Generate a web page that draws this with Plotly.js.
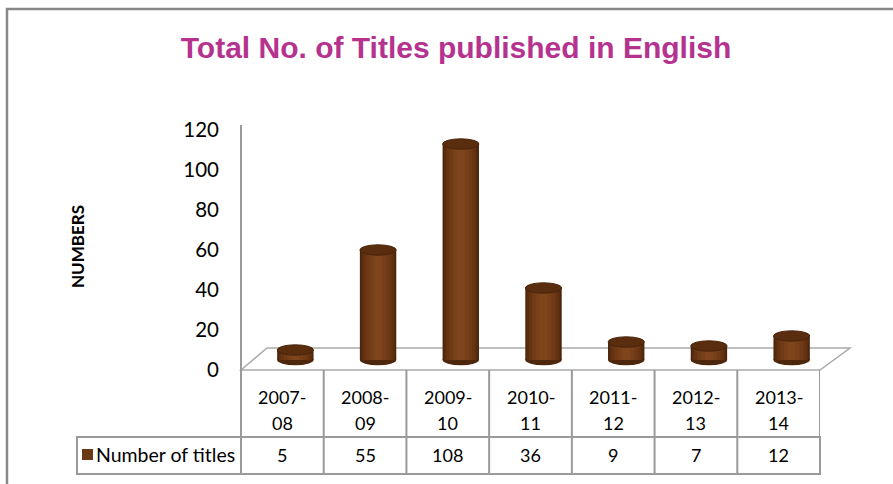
<!DOCTYPE html>
<html>
<head>
<meta charset="utf-8">
<script src="https://cdn.plot.ly/plotly-3.0.1.min.js"></script>
<style>html,body{margin:0;padding:0;background:#fff;}#chart{width:893px;height:484px;}</style>
</head>
<body>
<div id="chart"></div>
<script>
// ---- data ----
const categories = ['2007-08', '2008-09', '2009-10', '2010-11', '2011-12', '2012-13', '2013-14'];
const numberOfTitles = [5, 55, 108, 36, 9, 7, 12];
const seriesName = 'Number of titles';
const yTicks = [0, 20, 40, 60, 80, 100, 120];
const chartTitle = 'Total No. of Titles published in English';
const yTitle = 'NUMBERS';

// ---- geometry helpers (pixels -> paper) ----
const W = 893, H = 484;
const fx = x => x / W;
const fy = y => 1 - y / H;
const colL = 241, colR = 820, depth = 13;
const floorFront = 370, floorBack = 348;
const tableHeadBottom = 437, tableBottom = 474, legendLeft = 77;
const font = 'Lato, "Open Sans", sans-serif';
const grid = '#9a9a9a';

const idx = categories.map((c, i) => i);

// cylinder body drawn as overlaid bars (outer dark -> inner light)
const layers = [
  {w: 0.44, c: '#4c250b'},
  {w: 0.40, c: '#5a2e0f'},
  {w: 0.35, c: '#663413'},
  {w: 0.28, c: '#703a16'},
  {w: 0.19, c: '#784019'},
  {w: 0.10, c: '#7e451c'}
];
const traces = layers.map(l => ({
  type: 'bar', x: idx, y: numberOfTitles, width: l.w,
  marker: {color: l.c, line: {width: 0}},
  xaxis: 'x2', yaxis: 'y2', hoverinfo: 'skip', showlegend: false
}));
// invisible trace on the tick axis so it renders
traces.push({type: 'scatter', x: [0], y: [0], mode: 'markers', marker: {opacity: 0}, xaxis: 'x', yaxis: 'y', hoverinfo: 'skip', showlegend: false});

const shapes = [];
// outer frame
shapes.push({type: 'path', xref: 'paper', yref: 'paper',
  path: `M ${fx(7)},${fy(490)} L ${fx(7)},${fy(9)} L ${fx(900)},${fy(9)}`,
  line: {color: '#888', width: 2.5}});
// floor
shapes.push({type: 'path', xref: 'paper', yref: 'paper', layer: 'below',
  path: `M ${fx(colL)},${fy(floorFront)} L ${fx(colL + 26)},${fy(floorBack)} L ${fx(850)},${fy(floorBack)} L ${fx(colR)},${fy(floorFront)} Z`,
  line: {color: '#aaaaaa', width: 1.5}});
// vertical axis line
shapes.push({type: 'line', xref: 'paper', yref: 'paper', x0: fx(colL), x1: fx(colL), y0: fy(125), y1: fy(tableBottom),
  line: {color: grid, width: 2}});
// table column separators (header row + data row)
for (let i = 1; i <= categories.length; i++) {
  shapes.push({type: 'line', xref: 'x', yref: 'paper', x0: i - 0.5, x1: i - 0.5, y0: fy(floorFront), y1: fy(tableBottom),
    line: {color: grid, width: 2}});
}
// data row box
shapes.push({type: 'rect', xref: 'paper', yref: 'paper', x0: fx(legendLeft), x1: fx(colR), y0: fy(tableBottom), y1: fy(tableHeadBottom),
  line: {color: grid, width: 2}});
// legend key square
shapes.push({type: 'rect', xref: 'paper', yref: 'paper', x0: fx(82), x1: fx(93), y0: fy(460), y1: fy(449),
  fillcolor: '#6b3816', line: {width: 0}});
// cylinder caps (from data)
numberOfTitles.forEach((v, i) => {
  // bottom ellipse
  shapes.push({type: 'circle', xref: 'x2', yref: 'y2', layer: 'below', x0: i - 0.22, x1: i + 0.22, y0: -2.6, y1: 2.6,
    fillcolor: '#4e260c', line: {width: 0}});
  // top ellipse
  shapes.push({type: 'circle', xref: 'x2', yref: 'y2', x0: i - 0.22, x1: i + 0.22, y0: v - 2.6, y1: v + 2.6,
    fillcolor: '#5a2d0f', line: {color: '#4a240b', width: 1}});
});

const annotations = [];
categories.forEach((c, i) => {
  const parts = c.split('-');
  annotations.push({xref: 'x', yref: 'paper', x: i, y: fy(397), text: parts[0] + '-', showarrow: false,
    font: {family: font, size: 18, color: '#000'}, xanchor: 'center', yanchor: 'middle'});
  annotations.push({xref: 'x', yref: 'paper', x: i, y: fy(423), text: parts[1], showarrow: false,
    font: {family: font, size: 18, color: '#000'}, xanchor: 'center', yanchor: 'middle'});
  annotations.push({xref: 'x', yref: 'paper', x: i, y: fy(455), text: String(numberOfTitles[i]), showarrow: false,
    font: {family: font, size: 18, color: '#000'}, xanchor: 'center', yanchor: 'middle'});
});
annotations.push({xref: 'paper', yref: 'paper', x: fx(94), y: fy(454), text: seriesName, showarrow: false,
  font: {family: font, size: 19.5, color: '#000'}, xanchor: 'left', yanchor: 'middle'});
annotations.push({xref: 'paper', yref: 'paper', x: fx(77), y: fy(247), text: '<b>' + yTitle + '</b>', textangle: -90, showarrow: false,
  font: {family: font, size: 17, color: '#000'}, xanchor: 'center', yanchor: 'middle'});

const layout = {
  width: W, height: H,
  margin: {l: 0, r: 0, t: 0, b: 0},
  paper_bgcolor: '#fff', plot_bgcolor: 'rgba(0,0,0,0)',
  barmode: 'overlay',
  showlegend: false,
  title: {text: '<b>' + chartTitle + '</b>', x: fx(456), xanchor: 'center', xref: 'paper', y: fy(47), yanchor: 'middle',
    font: {family: '"Liberation Sans Narrow", "Liberation Sans", Arial, sans-serif', size: 30, color: '#b5338f'}},
  xaxis: {domain: [fx(colL), fx(colR)], range: [-0.5, categories.length - 0.5], visible: false, anchor: 'y', fixedrange: true},
  yaxis: {domain: [fy(370), fy(130)], range: [0, 120], tickvals: yTicks, ticktext: yTicks.map(String),
    showgrid: false, zeroline: false, showline: false, ticks: '', anchor: 'free', position: fx(colL), ticklabelstandoff: 22,
    tickfont: {family: font, size: 20.5, color: '#000'}, fixedrange: true},
  xaxis2: {domain: [fx(colL + depth), fx(colR + depth)], range: [-0.5, categories.length - 0.5], visible: false, anchor: 'y2', fixedrange: true},
  yaxis2: {domain: [fy(380), fy(120)], range: [-10, 120], visible: false, anchor: 'x2', fixedrange: true},
  shapes: shapes,
  annotations: annotations
};

Plotly.newPlot('chart', traces, layout, {displayModeBar: false, staticPlot: true});
</script>
</body>
</html>
